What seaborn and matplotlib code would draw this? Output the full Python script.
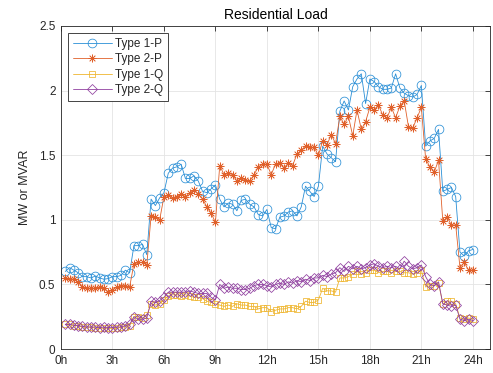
import numpy as np
import pandas as pd
import seaborn as sns
import matplotlib.pyplot as plt
from matplotlib.ticker import FuncFormatter

# 15-minute residential load profiles over one day (96 samples per series)
type1_p = [0.60, 0.63, 0.61, 0.59, 0.56, 0.56, 0.55, 0.565,
           0.55, 0.54, 0.545, 0.56, 0.56, 0.57, 0.61, 0.59,
           0.80, 0.80, 0.81, 0.73, 1.16, 1.11, 1.17, 1.21,
           1.36, 1.40, 1.41, 1.43, 1.32, 1.32, 1.34, 1.30,
           1.22, 1.21, 1.24, 1.27, 1.16, 1.10, 1.13, 1.12,
           1.07, 1.15, 1.16, 1.12, 1.10, 1.04, 1.03, 1.08,
           0.94, 0.93, 1.02, 1.03, 1.06, 1.07, 1.03, 1.10,
           1.26, 1.22, 1.18, 1.26, 1.57, 1.51, 1.48, 1.45,
           1.84, 1.92, 1.85, 2.03, 2.09, 2.13, 1.90, 2.09,
           2.07, 2.03, 2.01, 2.01, 2.02, 2.13, 2.02, 1.98,
           1.96, 1.95, 1.97, 2.04, 1.57, 1.61, 1.63, 1.70,
           1.22, 1.235, 1.25, 1.18, 0.75, 0.72, 0.76, 0.77]

type2_p = [0.55, 0.54, 0.54, 0.52, 0.48, 0.47, 0.47, 0.47,
           0.48, 0.47, 0.44, 0.46, 0.48, 0.49, 0.49, 0.48,
           0.66, 0.67, 0.67, 0.65, 1.03, 1.02, 1.00, 1.18,
           1.19, 1.17, 1.18, 1.20, 1.18, 1.21, 1.23, 1.20,
           1.16, 1.10, 1.05, 0.98, 1.42, 1.35, 1.36, 1.35,
           1.30, 1.32, 1.31, 1.30, 1.35, 1.41, 1.43, 1.43,
           1.35, 1.43, 1.44, 1.40, 1.44, 1.42, 1.51, 1.54,
           1.57, 1.56, 1.56, 1.50, 1.61, 1.58, 1.66, 1.59,
           1.80, 1.74, 1.80, 1.65, 1.85, 1.70, 1.76, 1.87,
           1.85, 1.89, 1.81, 1.79, 1.87, 1.79, 1.88, 1.92,
           1.72, 1.71, 1.79, 1.87, 1.47, 1.41, 1.37, 1.46,
           0.99, 1.02, 0.96, 0.96, 0.63, 0.67, 0.61, 0.61]

type1_q = [0.19, 0.19, 0.18, 0.18, 0.17, 0.17, 0.17, 0.16,
           0.16, 0.16, 0.16, 0.16, 0.16, 0.17, 0.17, 0.18,
           0.25, 0.25, 0.24, 0.26, 0.35, 0.34, 0.35, 0.38,
           0.41, 0.42, 0.42, 0.41, 0.42, 0.41, 0.40, 0.40,
           0.39, 0.37, 0.36, 0.35, 0.34, 0.33, 0.34, 0.33,
           0.35, 0.34, 0.34, 0.33, 0.33, 0.31, 0.32, 0.32,
           0.29, 0.30, 0.31, 0.31, 0.32, 0.32, 0.31, 0.33,
           0.37, 0.36, 0.36, 0.38, 0.47, 0.45, 0.45, 0.44,
           0.55, 0.55, 0.56, 0.58, 0.60, 0.58, 0.59, 0.61,
           0.61, 0.59, 0.60, 0.60, 0.59, 0.60, 0.60, 0.59,
           0.59, 0.58, 0.59, 0.61, 0.48, 0.49, 0.49, 0.51,
           0.35, 0.37, 0.37, 0.35, 0.24, 0.23, 0.24, 0.23]

type2_q = [0.19, 0.19, 0.185, 0.18, 0.175, 0.17, 0.17, 0.17,
           0.165, 0.17, 0.165, 0.165, 0.17, 0.17, 0.18, 0.19,
           0.25, 0.23, 0.23, 0.24, 0.37, 0.36, 0.375, 0.40,
           0.44, 0.44, 0.44, 0.44, 0.44, 0.45, 0.44, 0.43,
           0.43, 0.43, 0.40, 0.38, 0.50, 0.47, 0.48, 0.47,
           0.47, 0.46, 0.46, 0.47, 0.49, 0.50, 0.50, 0.49,
           0.48, 0.50, 0.51, 0.50, 0.52, 0.51, 0.53, 0.52,
           0.54, 0.53, 0.55, 0.55, 0.57, 0.56, 0.58, 0.59,
           0.63, 0.60, 0.64, 0.62, 0.64, 0.62, 0.63, 0.65,
           0.66, 0.64, 0.63, 0.64, 0.63, 0.64, 0.62, 0.68,
           0.64, 0.62, 0.63, 0.65, 0.56, 0.50, 0.49, 0.52,
           0.35, 0.34, 0.33, 0.34, 0.23, 0.22, 0.23, 0.22]

series_names = ["Type 1-P", "Type 2-P", "Type 1-Q", "Type 2-Q"]
hour_ticks = [0, 3, 6, 9, 12, 15, 18, 21, 24]
hour_labels = ["0h", "3h", "6h", "9h", "12h", "15h", "18h", "21h", "24h"]
y_ticks = [0, 0.5, 1, 1.5, 2, 2.5]

hours = np.arange(1, len(type1_p) + 1) * 0.25

sns.set_style("white")
plt.rcParams["font.family"] = ["Liberation Sans", "DejaVu Sans"]

ink = "#262626"
palette = ["#2a8fd6", "#e0602a", "#efb52e", "#9040a0"]
markers = ["o", (8, 2, 0), "s", "D"]
msizes = [6.3, 5.6, 5.0, 5.0]
edge_widths = [0.55, 0.5, 0.55, 0.55]

fig = plt.figure(figsize=(4.93, 3.73), dpi=100)
ax = fig.add_axes([61 / 493, 1 - 349 / 373, 429 / 493, 323 / 373])

for name, vals, col, mk, ms, ew in zip(series_names,
                                       [type1_p, type2_p, type1_q, type2_q],
                                       palette, markers, msizes, edge_widths):
    df = pd.DataFrame({"hour": hours, "value": vals})
    sns.lineplot(data=df, x="hour", y="value", ax=ax, color=col,
                 marker=mk, markersize=ms, markerfacecolor="none",
                 markeredgecolor=col, markeredgewidth=ew,
                 linewidth=0.6, label=name)

ax.set_xlim(0, 25)
ax.set_ylim(0, 2.5)
ax.set_xticks(hour_ticks)
ax.set_xticklabels(hour_labels)
ax.set_yticks(y_ticks)
ax.yaxis.set_major_formatter(FuncFormatter(lambda v, _: f"{v:g}"))

ax.grid(True, color="#e4e4e4", linewidth=0.6)
ax.set_axisbelow(True)
for sp in ax.spines.values():
    sp.set_color(ink)
    sp.set_linewidth(0.6)
ax.tick_params(direction="in", length=3.5, width=0.6, colors=ink,
               labelsize=8.5, top=True, right=True, pad=4)

ax.set_xlabel("")
ax.set_ylabel("MW or MVAR", fontsize=9, color=ink, labelpad=6)
ax.set_title("Residential Load", fontsize=10, color="black", pad=5)

leg = ax.legend(loc="upper left", bbox_to_anchor=(0.016, 0.978),
                borderaxespad=0, fontsize=8.5, fancybox=False,
                framealpha=1, edgecolor=ink, handlelength=3.3,
                labelspacing=0.3, borderpad=0.4, handletextpad=0.3)
leg.get_frame().set_linewidth(0.6)

fig.savefig("out.png", dpi=100)
